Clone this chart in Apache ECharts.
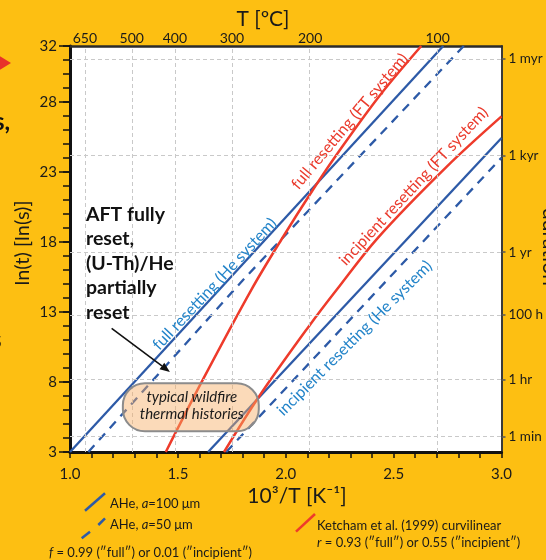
<!DOCTYPE html>
<html><head><meta charset="utf-8">
<script src="https://cdn.jsdelivr.net/npm/echarts@6/dist/echarts.min.js"></script>
<style>html,body{margin:0;padding:0;background:#fdbf12;}#c{width:546px;height:560px;}</style>
</head><body><div id="c"></div>
<script>
// ---- data (x = 10^3/T [1/K], y = ln(t) [ln(s)]) ----
const heFull100 = [[1.0, 3.0], [2.73, 32.0]];
const heFull50 = [[1.085, 3.0], [1.802, 15.29], [2.825, 32.0]];
const heInc100 = [[1.640, 3.0], [3.0, 25.43]];
const heInc50 = [[1.724, 3.0], [3.0, 24.02]];
const ftFull = [[1.444, 3.0], [1.617, 8.2], [1.841, 14.6], [1.980, 18.18], [2.126, 21.73], [2.250, 24.55], [2.435, 28.45], [2.628, 32.0]];
const ftInc = [[1.714, 3.0], [1.880, 7.05], [2.111, 12.06], [2.235, 14.57], [2.427, 18.3], [2.744, 23.35], [3.0, 26.97]];
const xLabelValues = [1.0, 1.5, 2.0, 2.5, 3.0];
const yLabelValues = [3, 8, 13, 18, 23, 28, 32];
const tempLabels = ['650', '500', '400', '300', '200', '100'];
const tempPositions = [1.069, 1.286, 1.486, 1.751, 2.113, 2.704];
const durationLabels = ['1 myr', '1 kyr', '1 yr', '100 h', '1 hr', '1 min'];
const durationPositions = [31.08, 24.18, 17.27, 12.79, 8.19, 4.09];

const BLUE = '#2d5aa7', RED = '#ee3b2b', BLUE_T = '#2384c9', RED_T = '#ea3a2c';
const FONT = 'Lato';

function nearestIdx(arr, v) {
  let b = 0; for (let i = 1; i < arr.length; i++) if (Math.abs(arr[i] - v) < Math.abs(arr[b] - v)) b = i; return b;
}

const chart = echarts.init(document.getElementById('c'));
const option = {
  backgroundColor: '#fdbf12',
  animation: false,
  textStyle: { fontFamily: FONT },
  grid: { left: 70, top: 46, width: 432, height: 406, show: true, backgroundColor: '#ffffff', borderWidth: 0 },
  xAxis: [
    { type: 'value', position: 'bottom', min: 1, max: 3, interval: 0.1,
      axisLine: { show: true, onZero: false, lineStyle: { color: '#111', width: 3 } },
      axisTick: { show: true, inside: false, length: 6, lineStyle: { color: '#111', width: 1.5 } },
      axisLabel: { margin: 15, fontSize: 15, color: '#1a1a1a', fontFamily: FONT,
        formatter: v => { const t = xLabelValues.find(a => Math.abs(a - v) < 1e-6); return t === undefined ? '' : t.toFixed(1); } },
      splitLine: { show: false } },
    { type: 'value', position: 'top', min: 1, max: 3,
      axisLine: { show: true, onZero: false, lineStyle: { color: '#2b2b2b', width: 2.5 } },
      axisTick: { show: false },
      axisLabel: { customValues: tempPositions, margin: 1, fontSize: 14, color: '#1a1a1a', fontFamily: FONT,
        formatter: v => tempLabels[nearestIdx(tempPositions, v)] },
      splitLine: { show: false } }
  ],
  yAxis: [
    { type: 'value', position: 'left', min: 3, max: 32, interval: 1,
      axisLine: { show: true, onZero: false, lineStyle: { color: '#111', width: 3 } },
      axisTick: { show: true, length: 7, lineStyle: { color: '#111', width: 1.5 } },
      axisLabel: { margin: 13, fontSize: 15, color: '#1a1a1a', fontFamily: FONT,
        formatter: v => { const r = Math.round(v); return (Math.abs(v - r) < 1e-6 && yLabelValues.includes(r)) ? String(r) : ''; } },
      splitLine: { show: false } },
    { type: 'value', position: 'right', min: 3, max: 32,
      axisLine: { show: true, onZero: false, lineStyle: { color: '#3a3a3a', width: 2 } },
      axisTick: { show: true, customValues: durationPositions, length: 4, lineStyle: { color: '#555', width: 1.5 } },
      axisLabel: { customValues: durationPositions, margin: 7, fontSize: 13.5, color: '#1a1a1a', fontFamily: FONT,
        formatter: v => durationLabels[nearestIdx(durationPositions, v)] },
      splitLine: { show: false } },
    { type: 'value', position: 'left', min: 3, max: 32,
      axisLine: { show: false },
      axisTick: { show: true, customValues: yLabelValues, length: 11, lineStyle: { color: '#111', width: 1.5 } },
      axisLabel: { show: false },
      splitLine: { show: false } }
  ],
  series: [
    { type: 'line', data: [], z: 1, silent: true,
      markLine: { silent: true, symbol: 'none', label: { show: false },
        lineStyle: { color: '#c9c9c9', type: [4, 3], width: 1 },
        data: tempPositions.map(v => ({ xAxis: v })).concat(durationPositions.map(v => ({ yAxis: v }))) } },
    { name: 'heFull100', type: 'line', data: heFull100, showSymbol: false, symbol: 'none', lineStyle: { color: BLUE, width: 2.3 }, z: 3 },
    { name: 'heFull50', type: 'line', data: heFull50, showSymbol: false, symbol: 'none', lineStyle: { color: BLUE, width: 2.3, type: [9, 7] }, z: 3 },
    { name: 'heInc100', type: 'line', data: heInc100, showSymbol: false, symbol: 'none', lineStyle: { color: BLUE, width: 2.3 }, z: 3 },
    { name: 'heInc50', type: 'line', data: heInc50, showSymbol: false, symbol: 'none', lineStyle: { color: BLUE, width: 2.3, type: [9, 7] }, z: 3 },
    { name: 'ftFull', type: 'line', data: ftFull, smooth: 0.35, showSymbol: false, symbol: 'none', lineStyle: { color: RED, width: 2.5 }, z: 4 },
    { name: 'ftInc', type: 'line', data: ftInc, smooth: 0.35, showSymbol: false, symbol: 'none', lineStyle: { color: RED, width: 2.5 }, z: 4 }
  ]
};
chart.setOption(option);

const P = (x, y) => chart.convertToPixel({ gridIndex: 0 }, [x, y]);
const g = [];
function txt(x, y, text, o) {
  g.push(Object.assign({ type: 'text', x: x, y: y, z: 100,
    style: Object.assign({ text: text, fill: '#1a1a1a', fontFamily: FONT, fontSize: 14, align: 'left', verticalAlign: 'middle' }, o.style || {}) },
    o.rotation !== undefined ? { rotation: o.rotation } : {}));
}
// curve labels (data-anchored)
const curveLabels = [
  { t: 'full resetting (He system)', x: 1.671, y: 15.0, a: 47, c: BLUE_T },
  { t: 'incipient resetting (He system)', x: 2.319, y: 11.13, a: 45, c: BLUE_T },
  { t: 'full resetting (FT system)', x: 2.296, y: 26.62, a: 50, c: RED_T },
  { t: 'incipient resetting (FT system)', x: 2.593, y: 21.98, a: 47, c: RED_T }
];
curveLabels.forEach(l => {
  const p = P(l.x, l.y);
  txt(p[0], p[1], l.t, { rotation: l.a * Math.PI / 180, style: { fill: l.c, fontSize: 16, align: 'center' } });
});
// AFT annotation
const aft = P(1.074, 20.85);
g.push({ type: 'text', x: aft[0], y: aft[1], z: 100,
  style: { text: 'AFT fully\nreset,\n(U-Th)/He\npartially\nreset', fill: '#111', fontFamily: FONT, fontWeight: 'bold', fontSize: 19.5, lineHeight: 24.6, align: 'left', verticalAlign: 'top' } });
// arrow
const a0 = P(1.193, 11.83), a1 = P(1.463, 8.72);
const dx = a1[0] - a0[0], dy = a1[1] - a0[1], L = Math.hypot(dx, dy), ux = dx / L, uy = dy / L;
const hl = 10, hw = 4;
const bx = a1[0] - ux * hl, by = a1[1] - uy * hl;
g.push({ type: 'line', z: 100, shape: { x1: a0[0], y1: a0[1], x2: bx, y2: by }, style: { stroke: '#111', lineWidth: 1.6 } });
g.push({ type: 'polygon', z: 100, shape: { points: [[a1[0], a1[1]], [bx - uy * hw, by + ux * hw], [bx + uy * hw, by - ux * hw]] }, style: { fill: '#111' } });
// wildfire box
const b0 = P(1.245, 7.91), b1 = P(1.875, 4.48);
g.push({ type: 'rect', z: 100, shape: { x: b0[0], y: b0[1], width: b1[0] - b0[0], height: b1[1] - b0[1], r: 22 },
  style: { fill: 'rgba(247,172,100,0.45)', stroke: '#8c8c8c', lineWidth: 2 } });
const bc = (b0[0] + b1[0]) / 2;
txt(bc + 1, b0[1] + 14, 'typical wildfire', { style: { align: 'center', fontStyle: 'italic', fontSize: 15, fill: '#1a1a1a' } });
txt(bc + 1, b0[1] + 31, 'thermal histories', { style: { align: 'center', fontStyle: 'italic', fontSize: 15, fill: '#1a1a1a' } });

// axis titles
txt(263, 19, 'T [ºC]', { style: { align: 'center', fontSize: 21 } });
txt(297, 496, '10³/T [K⁻¹]', { style: { align: 'center', fontSize: 21 } });
txt(23, 243, 'ln(t) [ln(s)]', { rotation: Math.PI / 2, style: { align: 'center', fontSize: 20 } });
txt(550, 247, 'duration', { rotation: -Math.PI / 2, style: { align: 'center', fontSize: 21 } });

// legend
g.push({ type: 'line', z: 100, shape: { x1: 85, y1: 510.7, x2: 105, y2: 493.3 }, style: { stroke: BLUE, lineWidth: 2.5 } });
g.push({ type: 'line', z: 100, shape: { x1: 81.7, y1: 538.3, x2: 90, y2: 531.7 }, style: { stroke: BLUE, lineWidth: 2.5 } });
g.push({ type: 'line', z: 100, shape: { x1: 98.3, y1: 525, x2: 105, y2: 518.3 }, style: { stroke: BLUE, lineWidth: 2.5 } });
g.push({ type: 'line', z: 100, shape: { x1: 296, y1: 531.7, x2: 315, y2: 514 }, style: { stroke: RED, lineWidth: 2.5 } });
const rich = { i: { fontStyle: 'italic', fontSize: 13, fontFamily: FONT, fill: '#1a1a1a' }, n: { fontSize: 13, fontFamily: FONT, fill: '#1a1a1a' } };
txt(110, 504, '{n|AHe, }{i|a}{n|=100 μm}', { style: { fontSize: 13, rich: rich } });
txt(110, 525, '{n|AHe, }{i|a}{n|=50 μm}', { style: { fontSize: 13, rich: rich } });
txt(49, 553, '{i|f}{n| = 0.99 (″full″) or 0.01 (″incipient″)}', { style: { fontSize: 13, rich: rich } });
txt(317, 526, 'Ketcham et al. (1999) curvilinear', { style: { fontSize: 13 } });
txt(317, 543, '{i|r}{n| = 0.93 (″full″) or 0.55 (″incipient″)}', { style: { fontSize: 13, rich: rich } });

// slide fragments at left edge
g.push({ type: 'polygon', z: 100, shape: { points: [[-2, 55], [11, 63], [-2, 71]] }, style: { fill: '#e8322a' } });
txt(-6, 122, 's,', { style: { fontWeight: 'bold', fontSize: 24, fill: '#111' } });
txt(-9, 340, 's', { style: { fontWeight: 'bold', fontSize: 24, fill: '#111' } });

chart.setOption({ graphic: g });
</script>
</body></html>
